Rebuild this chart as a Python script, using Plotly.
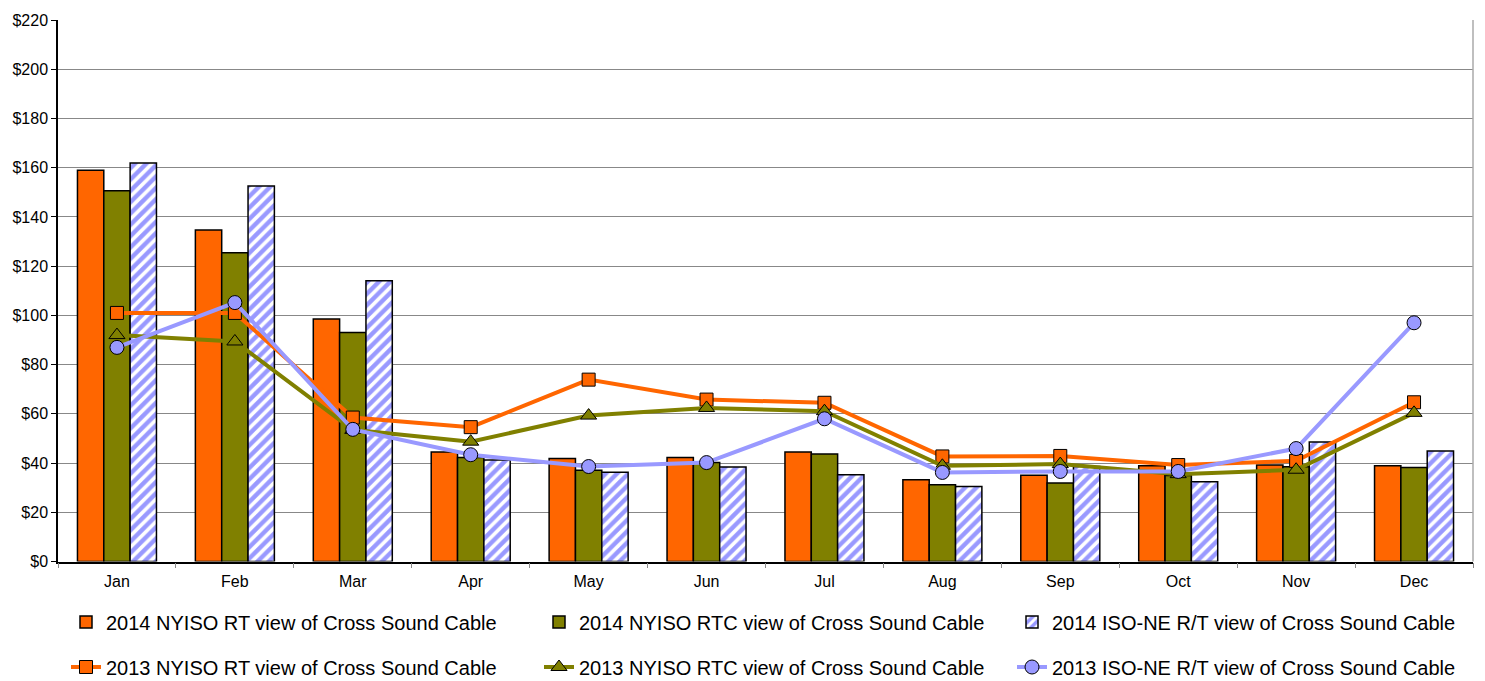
import plotly.graph_objects as go

months = ["Jan", "Feb", "Mar", "Apr", "May", "Jun", "Jul", "Aug", "Sep", "Oct", "Nov", "Dec"]

rt2014 = [159.0, 134.7, 98.5, 44.5, 41.9, 42.3, 44.5, 33.2, 35.1, 38.9, 39.2, 38.9]
rtc2014 = [150.6, 125.4, 93.0, 42.3, 37.1, 40.2, 43.7, 31.2, 31.9, 35.0, 38.5, 38.2]
iso2014 = [161.9, 152.6, 114.1, 41.3, 36.3, 38.4, 35.3, 30.5, 38.6, 32.4, 48.6, 44.9]

rt2013 = [101.0, 101.0, 58.5, 54.6, 73.9, 65.8, 64.5, 42.7, 42.9, 39.2, 40.9, 64.7]
rtc2013 = [92.0, 89.4, 53.5, 48.7, 59.3, 62.4, 61.1, 38.9, 39.6, 35.5, 37.3, 60.4]
iso2013 = [87.0, 105.2, 53.7, 43.4, 38.6, 40.2, 58.0, 36.2, 36.6, 36.6, 45.9, 97.0]

names_bar = ["2014 NYISO RT view of Cross Sound Cable",
             "2014 NYISO RTC view of Cross Sound Cable",
             "2014 ISO-NE R/T view of Cross Sound Cable"]
names_line = ["2013 NYISO RT view of Cross Sound Cable",
              "2013 NYISO RTC view of Cross Sound Cable",
              "2013 ISO-NE R/T view of Cross Sound Cable"]

ORANGE = "#FF6600"
OLIVE = "#808000"
LAV = "#9999FF"

fig = go.Figure()
bar_line = dict(color="black", width=1.5)
fig.add_trace(go.Bar(x=months, y=rt2014, name=names_bar[0],
                     marker=dict(color=ORANGE, line=bar_line), legend="legend"))
fig.add_trace(go.Bar(x=months, y=rtc2014, name=names_bar[1],
                     marker=dict(color=OLIVE, line=bar_line), legend="legend"))
fig.add_trace(go.Bar(x=months, y=iso2014, name=names_bar[2],
                     marker=dict(color=LAV, line=bar_line,
                                 pattern=dict(shape="/", fgcolor="white", bgcolor=LAV,
                                              size=8, solidity=0.45, fillmode="replace")),
                     legend="legend"))

mk_line = dict(color="black", width=1)
fig.add_trace(go.Scatter(x=months, y=rt2013, name=names_line[0], mode="lines+markers",
                         line=dict(color=ORANGE, width=4),
                         marker=dict(symbol="square", size=13, color=ORANGE, line=mk_line),
                         legend="legend2"))
fig.add_trace(go.Scatter(x=months, y=rtc2013, name=names_line[1], mode="lines+markers",
                         line=dict(color=OLIVE, width=4),
                         marker=dict(symbol="triangle-up", size=14, color=OLIVE, line=mk_line),
                         legend="legend2"))
fig.add_trace(go.Scatter(x=months, y=iso2013, name=names_line[2], mode="lines+markers",
                         line=dict(color=LAV, width=4),
                         marker=dict(symbol="circle", size=14, color=LAV, line=mk_line),
                         legend="legend2"))

FONT = "Liberation Sans, Arial, sans-serif"
legend_common = dict(orientation="h", xref="paper", x=0.0065, xanchor="left",
                     yref="container", yanchor="middle",
                     font=dict(family=FONT, size=20, color="black"),
                     entrywidth=428, entrywidthmode="pixels",
                     bgcolor="rgba(0,0,0,0)", borderwidth=0)

fig.update_layout(
    width=1485, height=681,
    margin=dict(l=58, r=12, t=18, b=118),
    paper_bgcolor="white", plot_bgcolor="white",
    barmode="group", bargap=0.33, bargroupgap=0,
    font=dict(family=FONT, size=16, color="black"),
    legend=dict(y=1 - 622 / 681, **legend_common),
    legend2=dict(y=1 - 667 / 681, **legend_common),
    xaxis=dict(range=[-0.5, 11.5], showline=True, linecolor="black", linewidth=1.5,
               ticks="outside", tickson="boundaries", ticklen=5, tickcolor="#888",
               ticklabelstandoff=5, tickfont=dict(size=16), showgrid=False),
    yaxis=dict(range=[0, 220], dtick=20, tickprefix="$", showline=True,
               linecolor="black", linewidth=1.5, ticks="outside", ticklen=5,
               tickcolor="black", gridcolor="#888", gridwidth=1,
               tickfont=dict(size=16), zeroline=False),
    shapes=[dict(type="line", xref="paper", yref="paper", x0=1, x1=1, y0=0, y1=1,
                 line=dict(color="#aaa", width=1.5))],
)

fig.write_html("out.html", config={"displayModeBar": False},
               post_script="document.body.style.margin='0';document.body.style.padding='0';")
